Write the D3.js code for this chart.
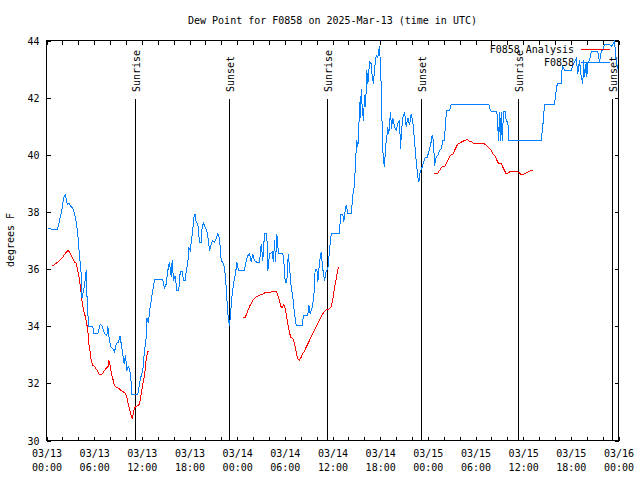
<!DOCTYPE html>
<html><head><meta charset="utf-8">
<script src="https://cdn.jsdelivr.net/npm/d3@7"></script>
<style>
body{margin:0;background:#fff;}
svg{display:block;font-family:"DejaVu Sans Mono",monospace;}
</style></head>
<body><svg id="c" width="640" height="480"></svg>
<script>
const titleText = "Dew Point for F0858 on 2025-Mar-13 (time in UTC)";
const yLabel = "degrees F";
const yTicks = [30, 32, 34, 36, 38, 40, 42, 44];
const xTickHours = [0, 6, 12, 18, 24, 30, 36, 42, 48, 54, 60, 66, 72];
const xTickDates = ["03/13","03/13","03/13","03/13","03/14","03/14","03/14","03/14","03/15","03/15","03/15","03/15","03/16"];
const xTickTimes = ["00:00","06:00","12:00","18:00","00:00","06:00","12:00","18:00","00:00","06:00","12:00","18:00","00:00"];
const sunLabels = ["Sunrise","Sunset","Sunrise","Sunset","Sunrise","Sunset"];
const sunHours = [11.2, 23.03, 35.37, 47.2, 59.42, 71.24];
const seriesNames = ["F0858 Analysis", "F0858"];

// Station observations (hours since 03/13 00:00 UTC, deg F)
const obsHours = [0.13,0.63,1.38,1.64,1.89,2.01,2.14,2.39,2.52,2.64,2.77,2.9,3.02,3.27,3.52,3.78,4.03,4.15,4.28,4.41,4.47,4.78,5.0,5.07,5.2,5.29,5.83,5.95,6.46,6.76,7.01,7.3,7.59,7.72,7.84,8.06,8.35,8.56,8.77,9.03,9.28,9.4,9.6,9.78,9.94,10.11,10.28,10.45,10.61,10.74,11.49,11.71,11.92,12.12,12.34,12.55,12.63,12.84,12.97,13.18,13.38,13.6,14.64,14.85,15.07,15.27,15.48,15.7,15.82,15.99,16.2,16.4,16.65,16.83,17.08,17.25,17.46,17.59,17.79,17.91,18.09,18.29,18.42,18.54,18.72,18.84,19.05,19.26,19.47,19.6,19.76,19.98,20.18,20.39,20.52,20.73,20.93,21.15,21.36,21.56,21.78,21.99,22.19,22.41,22.62,22.75,22.87,23.04,23.16,23.33,23.54,23.79,23.96,24.17,24.92,25.14,25.34,25.55,25.77,25.97,26.18,26.47,26.81,27.03,27.23,27.44,27.73,27.86,28.07,28.41,28.57,28.7,28.83,28.99,29.2,29.75,29.87,30.05,30.25,30.43,30.59,30.8,31.0,31.22,31.43,32.19,32.35,32.89,33.02,33.19,33.45,33.65,33.82,34.03,34.15,34.37,34.58,34.78,35.0,35.21,35.41,35.62,35.84,36.88,37.01,37.3,37.42,37.6,37.73,37.93,38.36,38.43,38.56,38.77,38.9,39.06,39.19,39.31,39.4,39.53,39.61,39.74,39.9,40.03,40.16,40.32,40.45,40.66,40.88,41.0,41.16,41.29,41.5,41.7,41.92,42.04,42.21,42.26,42.42,42.55,42.67,42.84,42.96,43.09,43.3,43.43,43.59,43.81,44.02,44.22,44.44,44.56,44.69,44.85,45.07,45.28,45.48,45.69,45.91,46.11,46.32,46.45,46.61,46.74,46.87,47.04,47.21,47.46,47.71,47.92,48.12,48.34,48.55,48.72,48.84,49.06,49.26,49.47,49.69,49.89,50.1,50.23,50.39,50.73,50.95,55.68,55.89,56.18,56.69,56.9,57.03,57.11,57.24,57.36,57.53,57.78,57.87,58.07,58.2,62.27,62.48,62.69,63.95,64.07,64.29,64.79,64.92,65.21,66.05,66.25,66.68,66.88,67.09,67.31,67.51,67.6,67.72,67.94,68.01,68.14,68.35,68.56,69.4,69.61,69.82,70.03,70.24,70.87,71.08,71.29,71.5,71.72,71.92];
const obsValues = [37.44,37.4,37.4,37.7,38.0,38.2,38.5,38.6,38.4,38.26,38.3,38.3,38.2,38.15,37.95,37.6,36.94,36.4,36.2,35.6,35.0,35.4,35.95,35.2,34.5,34.0,34.0,33.74,33.74,34.08,34.0,33.74,33.67,34.0,33.67,33.3,33.2,33.1,33.38,33.44,33.67,33.38,33.03,32.68,33.0,32.45,32.6,32.5,32.2,31.6,31.6,32.0,32.27,32.45,33.15,33.6,34.3,34.1,34.55,34.9,35.25,35.62,35.62,35.33,35.48,35.95,36.24,35.72,36.3,35.6,35.77,35.25,35.25,35.9,35.9,35.6,35.6,35.95,36.2,36.77,36.65,37.1,37.4,37.8,37.93,37.64,37.58,36.94,36.94,37.52,37.6,37.46,37.35,37.0,36.65,36.88,37.0,36.94,37.06,37.23,37.06,36.3,36.24,36.07,35.37,34.73,34.3,34.0,34.43,35.0,35.48,35.83,36.24,35.95,35.95,36.3,36.47,36.53,36.24,36.53,36.3,36.24,36.24,36.88,36.3,37.23,37.23,35.95,36.53,36.6,36.24,37.0,36.24,37.23,36.53,36.53,36.3,35.54,35.54,36.53,36.07,35.37,35.02,34.43,34.02,34.02,34.38,34.38,34.73,34.43,34.67,35.02,36.0,36.0,35.54,36.24,36.6,36.0,35.6,35.95,36.0,36.65,37.23,37.23,37.9,37.9,37.64,38.05,38.25,37.93,37.93,38.17,38.58,38.93,39.8,40.5,40.27,40.85,41.84,41.3,42.3,41.67,41.2,42.08,41.67,42.95,42.48,43.24,43.18,42.72,42.48,43.0,43.48,43.42,43.8,43.1,41.78,40.5,39.8,39.57,40.27,40.62,40.97,40.73,41.5,40.92,41.3,40.97,40.85,41.1,41.2,40.2,40.85,41.3,41.5,40.97,41.3,41.03,41.43,41.15,40.5,40.03,39.57,39.22,39.05,39.4,39.5,39.74,39.92,39.92,40.1,40.33,40.68,40.45,39.62,39.92,39.98,40.15,40.2,40.5,40.5,41.2,41.55,41.55,41.76,41.76,41.55,41.5,41.5,40.5,41.5,40.5,41.5,40.5,41.5,41.5,41.15,41.15,40.5,40.5,41.03,41.76,41.76,42.08,42.48,42.48,43.13,42.95,42.95,43.13,43.36,42.83,43.3,42.72,42.48,43.3,42.72,43.24,42.72,43.2,43.3,43.6,43.6,43.24,43.6,43.7,43.85,43.85,43.8,43.85,44.0,43.24,43.0];

// Analysis (three segments with gaps), hours and deg F
const anaHours1 = [0.79,1.22,1.64,2.05,2.39,2.73,2.9,3.11,3.31,3.56,3.74,3.86,4.03,4.15,4.28,4.49,4.66,4.78,5.0,5.2,5.32,5.5,5.63,5.83,6.04,6.26,6.46,6.67,6.89,7.09,7.3,7.52,7.77,7.84,8.02,8.14,8.35,8.56,8.77,9.19,9.4,9.69,9.94,10.11,10.28,10.45,10.61,10.79,10.91,11.08,11.29,11.49,11.71,11.92,12.12,12.34,12.55,12.75,12.88];
const anaValues1 = [36.11,36.2,36.3,36.42,36.56,36.65,36.6,36.48,36.36,36.24,36.2,36.05,35.83,35.6,35.36,34.84,34.55,34.45,34.2,33.85,33.38,33.09,32.8,32.63,32.6,32.5,32.42,32.3,32.3,32.36,32.45,32.53,32.6,32.8,32.6,32.39,32.16,31.92,31.87,31.8,31.75,31.7,31.66,31.52,31.28,31.1,30.93,30.78,30.93,31.14,31.2,31.22,31.28,31.63,31.98,32.27,32.86,33.12,33.12];
const anaHours2 = [24.71,25.01,25.14,25.34,25.55,25.77,25.97,26.18,26.4,26.69,26.94,27.23,27.57,28.07,28.49,28.91,29.04,29.2,29.33,29.54,29.67,29.87,30.05,30.17,30.38,30.59,30.72,31.0,31.22,31.43,31.63,31.85,32.06,32.26,32.48,32.69,32.89,33.11,33.32,33.52,33.74,33.95,34.15,34.37,34.58,34.78,35.0,35.21,35.54,35.84,35.96,36.13,36.25,36.47,36.67,36.88];
const anaValues2 = [34.29,34.29,34.4,34.55,34.69,34.8,34.9,34.96,35.02,35.06,35.1,35.13,35.18,35.19,35.21,35.21,35.16,35.02,34.87,34.67,34.67,34.76,34.6,34.43,34.08,33.79,33.62,33.58,33.38,33.09,32.86,32.82,32.91,33.05,33.12,33.27,33.38,33.5,33.64,33.75,33.87,33.99,34.1,34.22,34.34,34.43,34.52,34.57,34.6,34.69,34.84,35.07,35.36,35.66,36.0,36.09];
const anaHours3 = [48.84,49.26,49.47,49.69,49.89,50.1,50.31,50.52,50.73,50.95,51.15,51.36,51.57,51.78,51.99,52.2,52.41,52.62,52.83,53.04,53.25,53.46,53.66,53.88,55.14,55.35,55.55,55.77,55.98,56.18,56.39,56.61,56.81,57.03,57.24,57.44,57.65,57.87,58.07,58.28,58.7,59.13,59.33,59.54,59.76,59.96,60.17,60.38,60.59,60.8,61.14,61.3];
const anaValues3 = [39.33,39.36,39.45,39.54,39.59,39.59,39.68,39.8,39.94,40.01,40.01,40.15,40.27,40.38,40.41,40.44,40.47,40.5,40.52,40.52,40.47,40.47,40.41,40.38,40.38,40.33,40.27,40.21,40.15,40.03,39.98,39.86,39.74,39.68,39.7,39.57,39.45,39.33,39.36,39.4,39.43,39.43,39.4,39.36,39.31,39.31,39.33,39.36,39.4,39.43,39.45,39.45];

const svg = d3.select("#c");
const L = 46.5, R = 618.5, T = 40.5, B = 440.5;
const x = d3.scaleLinear().domain([0, 72]).range([L, R]);
const y = d3.scaleLinear().domain([30, 44]).range([B, T]);
const font = 10;
const blue = "#0080ff", red = "#ff0000";

// title
svg.append("text").attr("x", (L + R) / 2).attr("y", 20).attr("text-anchor", "middle")
  .attr("dominant-baseline", "central").attr("font-size", font).text(titleText);
// y label
svg.append("text").attr("transform", "translate(10,240) rotate(-90)").attr("text-anchor", "middle")
  .attr("dominant-baseline", "central").attr("font-size", font).text(yLabel);

// axes
const minor = d3.range(0, 73, 2);
const gB = svg.append("g").attr("transform", `translate(0,${B})`)
  .call(d3.axisBottom(x).tickValues(minor).tickSize(-4).tickFormat(""));
const gT = svg.append("g").attr("transform", `translate(0,${T})`)
  .call(d3.axisTop(x).tickValues(minor).tickSize(-4).tickFormat(""));
const gL = svg.append("g").attr("transform", `translate(${L},0)`)
  .call(d3.axisLeft(y).tickValues(yTicks).tickSize(-4).tickPadding(7).tickFormat(d3.format("d")));
const gR = svg.append("g").attr("transform", `translate(${R},0)`)
  .call(d3.axisRight(y).tickValues(yTicks).tickSize(-4).tickFormat(""));
[gB, gT, gL, gR].forEach(g => {
  g.select(".domain").remove();
  g.selectAll("line").attr("stroke", "#000").attr("shape-rendering", "crispEdges");
  g.selectAll("text").attr("font-family", "DejaVu Sans Mono, monospace").attr("font-size", font).attr("fill", "#000");
});
gL.selectAll("text").attr("dy", "0.35em");

// bottom labels (two lines)
const gX = svg.append("g").attr("transform", `translate(0,${B})`)
  .call(d3.axisBottom(x).tickValues(xTickHours).tickSize(0).tickFormat(""));
gX.select(".domain").remove();
gX.selectAll(".tick").each(function(d, i) {
  const t = d3.select(this).append("text").attr("text-anchor", "middle").attr("font-size", font)
    .attr("font-family", "DejaVu Sans Mono, monospace").attr("fill", "#000");
  t.append("tspan").attr("x", 0).attr("y", 16).text(xTickDates[i]);
  t.append("tspan").attr("x", 0).attr("y", 30).text(xTickTimes[i]);
});

// border
svg.append("rect").attr("x", L).attr("y", T).attr("width", R - L).attr("height", B - T)
  .attr("fill", "none").attr("stroke", "#000").attr("shape-rendering", "crispEdges");

// sunrise / sunset
sunHours.forEach((h, i) => {
  const px = Math.round(x(h) - 0.5) + 0.5;
  svg.append("line").attr("x1", px).attr("x2", px).attr("y1", 99).attr("y2", B)
    .attr("stroke", "#000").attr("shape-rendering", "crispEdges");
  svg.append("text").attr("transform", `translate(${px + 1},92) rotate(-90)`)
    .attr("text-anchor", "start").attr("dominant-baseline", "central")
    .attr("font-size", font).text(sunLabels[i]);
});

// data lines
const line = d3.line().x(d => x(d[0])).y(d => y(d[1]));
const obs = obsHours.map((h, i) => [h, obsValues[i]]);
const anaSegs = [[anaHours1, anaValues1], [anaHours2, anaValues2], [anaHours3, anaValues3]]
  .map(([hs, vs]) => hs.map((h, i) => [h, vs[i]]));
anaSegs.forEach(seg => {
  svg.append("path").datum(seg).attr("d", line).attr("fill", "none").attr("stroke", red)
    .attr("stroke-width", 1).attr("shape-rendering", "crispEdges");
});
svg.append("path").datum(obs).attr("d", line).attr("fill", "none").attr("stroke", blue)
  .attr("stroke-width", 1).attr("shape-rendering", "crispEdges");

// legend
const legY = [49.5, 62.5], legColors = [red, blue];
seriesNames.forEach((n, i) => {
  svg.append("text").attr("x", 574).attr("y", legY[i]).attr("text-anchor", "end")
    .attr("dominant-baseline", "central").attr("font-size", font).text(n);
  svg.append("line").attr("x1", 581).attr("x2", 610).attr("y1", legY[i]).attr("y2", legY[i])
    .attr("stroke", legColors[i]).attr("shape-rendering", "crispEdges");
});
</script></body></html>
